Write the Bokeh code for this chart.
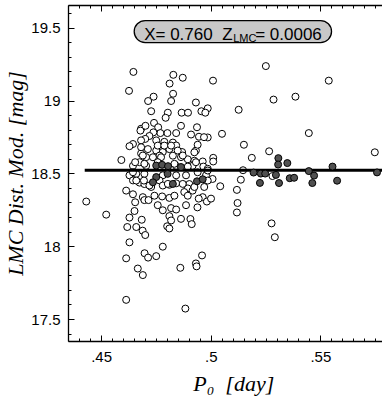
import numpy as np
from bokeh.plotting import figure
from bokeh.models import (FixedTicker, Label, BoxAnnotation, LinearAxis, Range1d,
                          CustomJSTickFormatter)
from bokeh.embed import file_html
from bokeh.resources import INLINE

# ---- data ----
open_x = [0.4645, 0.4625, 0.4827, 0.4870, 0.4810, 0.5008, 0.5249, 0.5536, 0.4826, 0.4737,
          0.4712, 0.4817, 0.4930, 0.5284, 0.5384, 0.4726, 0.4802, 0.4865, 0.4894, 0.4955,
          0.4984, 0.4973, 0.5125, 0.4792, 0.4680, 0.4700, 0.4739, 0.4758, 0.4862, 0.4935,
          0.4800, 0.4768, 0.4736, 0.5049, 0.4908, 0.4944, 0.4984, 0.4967, 0.5445, 0.4840,
          0.4718, 0.4699, 0.4643, 0.4627, 0.4680, 0.4749, 0.4786, 0.4825, 0.4840, 0.4930,
          0.4938, 0.4711, 0.4749, 0.4779, 0.4809, 0.4680, 0.4703, 0.4764, 0.4825, 0.4862,
          0.4893, 0.4923, 0.4961, 0.5009, 0.5009, 0.4643, 0.4673, 0.4703, 0.4840, 0.4915,
          0.4964, 0.4984, 0.4893, 0.4590, 0.4653, 0.4867, 0.5149, 0.5185, 0.5264, 0.5746,
          0.5145, 0.4627, 0.4658, 0.4695, 0.4779, 0.4840, 0.4885, 0.4976, 0.4643, 0.4673,
          0.4695, 0.4764, 0.4779, 0.4809, 0.4900, 0.4893, 0.4915, 0.4968, 0.5006, 0.5041,
          0.4923, 0.5135, 0.5279, 0.4726, 0.4612, 0.4643, 0.4688, 0.4741, 0.4776, 0.4809,
          0.4832, 0.4877, 0.4893, 0.4961, 0.4943, 0.4980, 0.4999, 0.5117, 0.4430, 0.4521,
          0.4695, 0.4714, 0.4653, 0.4756, 0.4885, 0.4937, 0.4779, 0.4817, 0.4840, 0.4809,
          0.4817, 0.4799, 0.4809, 0.4650, 0.4627, 0.4683, 0.4617, 0.4658, 0.4687, 0.4699,
          0.4627, 0.4696, 0.4712, 0.4612, 0.4749, 0.4779, 0.4665, 0.4688, 0.4859, 0.4930,
          0.4933, 0.4958, 0.4612, 0.4882, 0.4905, 0.4911, 0.5120, 0.5117, 0.5275, 0.5290,
          0.4677, 0.4680, 0.4756, 0.4786, 0.4817, 0.4847, 0.4923, 0.4688, 0.4734, 0.4771,
          0.4870, 0.4930, 0.4695, 0.4756, 0.4832, 0.4643, 0.4938, 0.4984, 0.4658, 0.4693,
          0.4718, 0.4802, 0.4840, 0.4870, 0.4984, 0.4862]
open_y = [19.20, 19.07, 19.18, 19.16, 19.12, 19.14, 19.24, 19.14, 19.05, 19.03,
          19.00, 19.00, 18.99, 19.01, 19.03, 18.93, 18.92, 18.92, 18.92, 18.93,
          18.95, 18.92, 18.94, 18.885, 18.81, 18.83, 18.85, 18.82, 18.83, 18.82,
          18.78, 18.78, 18.785, 18.775, 18.77, 18.755, 18.75, 18.752, 18.78, 18.78,
          18.76, 18.74, 18.705, 18.69, 18.73, 18.73, 18.72, 18.715, 18.695, 18.66,
          18.70, 18.67, 18.66, 18.65, 18.67, 18.64, 18.615, 18.625, 18.625, 18.615,
          18.60, 18.59, 18.585, 18.61, 18.585, 18.555, 18.58, 18.555, 18.555, 18.555,
          18.55, 18.535, 18.55, 18.595, 18.58, 18.65, 18.70, 18.61, 18.655, 18.648,
          18.525, 18.49, 18.50, 18.50, 18.49, 18.49, 18.49, 18.49, 18.455, 18.44,
          18.43, 18.455, 18.42, 18.425, 18.43, 18.40, 18.385, 18.41, 18.465, 18.415,
          18.41, 18.46, 18.485, 18.41, 18.385, 18.36, 18.34, 18.35, 18.345, 18.335,
          18.35, 18.375, 18.35, 18.34, 18.33, 18.31, 18.33, 18.39, 18.31, 18.22,
          18.32, 18.32, 18.305, 18.285, 18.285, 18.27, 18.25, 18.265, 18.255, 18.21,
          18.18, 18.14, 18.125, 18.245, 18.20, 18.185, 18.135, 18.135, 18.11, 18.08,
          18.03, 17.955, 17.925, 17.92, 17.935, 18.00, 17.85, 17.805, 17.855, 17.885,
          17.865, 17.94, 17.635, 17.575, 18.19, 18.155, 18.30, 18.235, 18.16, 18.065,
          18.797, 18.683, 18.694, 18.694, 18.694, 18.66, 18.648, 18.626, 18.614, 18.614,
          18.626, 18.58, 18.569, 18.58, 18.569, 18.511, 18.511, 18.523, 18.454, 18.454,
          18.42, 18.431, 18.435, 18.431, 18.454, 18.191]

fill_x = [0.4749, 0.4776, 0.4803, 0.4862, 0.4749, 0.4734, 0.4825, 0.4801, 0.4935, 0.4961,
          0.5306, 0.5305, 0.5347, 0.5193, 0.5226, 0.5246, 0.5295, 0.5222, 0.5309, 0.5358,
          0.5378, 0.5445, 0.5469, 0.5461, 0.5553, 0.5574, 0.5756]
fill_y = [18.557, 18.562, 18.553, 18.547, 18.478, 18.442, 18.431, 18.500, 18.449, 18.463,
          18.608, 18.564, 18.574, 18.509, 18.502, 18.502, 18.493, 18.438, 18.437, 18.470,
          18.473, 18.519, 18.488, 18.437, 18.550, 18.453, 18.510]

fit_x = [0.4423, 0.5800]
fit_y = [18.525, 18.525]

x_major = [0.45, 0.50, 0.55]
y_major = [17.5, 18.0, 18.5, 19.0, 19.5]
x_minor = list(np.round(np.arange(0.435, 0.5801, 0.005), 3))
y_minor = list(np.round(np.arange(17.4, 19.65, 0.1), 1))

annot_parts = ["X= 0.760", "Z", "LMC", "= 0.0006"]
x_title = "\u00a0\u00a0\u00a0P\u2080\u00a0\u00a0[day]"
y_title = "LMC Dist. Mod. [mag]"

# ---- figure ----
p = figure(width=382, height=409, output_backend="svg", toolbar_location=None,
           x_range=Range1d(0.4349, 0.5781), y_range=Range1d(17.349, 19.656),
           min_border_left=67, min_border_right=0, min_border_top=5, min_border_bottom=68)
p.grid.visible = False
p.outline_line_color = None
p.background_fill_color = "white"
p.border_fill_color = "white"

xfmt = CustomJSTickFormatter(code="return tick.toString().replace(/^0\\./, '.');")
yfmt = CustomJSTickFormatter(code="return tick.toString();")
nofmt = CustomJSTickFormatter(code="return '';")

def style_axis(ax, labels=True):
    ax.axis_line_color = "black"
    ax.axis_line_width = 1.3
    ax.major_tick_in = 6
    ax.major_tick_out = 0
    ax.minor_tick_in = 3
    ax.minor_tick_out = 0
    ax.major_tick_line_color = "black"
    ax.minor_tick_line_color = "black"
    ax.major_label_text_font = "Liberation Sans"
    ax.major_label_text_font_size = "15px" if labels else "0px"
    ax.major_label_text_color = "black"

p.xaxis.ticker = FixedTicker(ticks=x_major, minor_ticks=x_minor)
p.xaxis.formatter = xfmt
p.yaxis.ticker = FixedTicker(ticks=y_major, minor_ticks=y_minor)
p.yaxis.formatter = yfmt
style_axis(p.xaxis[0])
style_axis(p.yaxis[0])
p.xaxis.major_label_standoff = 10
p.yaxis.major_label_standoff = 8

p.xaxis.axis_label = x_title
p.xaxis.axis_label_text_font = "Liberation Serif"
p.xaxis.axis_label_text_font_style = "italic"
p.xaxis.axis_label_text_font_size = "22px"
p.xaxis.axis_label_text_color = "black"
p.xaxis.axis_label_standoff = 6

p.yaxis.axis_label = y_title
p.yaxis.axis_label_text_font = "Liberation Serif"
p.yaxis.axis_label_text_font_style = "italic"
p.yaxis.axis_label_text_font_size = "22px"
p.yaxis.axis_label_text_color = "black"
p.yaxis.axis_label_standoff = 0

top = LinearAxis(ticker=FixedTicker(ticks=x_major, minor_ticks=x_minor), formatter=nofmt)
style_axis(top, labels=False)
top.major_label_standoff = 0
p.add_layout(top, "above")

# ---- data marks ----
p.scatter(open_x, open_y, size=7, fill_color="white", line_color="black", line_width=1)
p.line(fit_x, fit_y, line_color="black", line_width=3)
p.scatter(fill_x, fill_y, size=7, fill_color="#505050", line_color="black", line_width=1)

# ---- annotation pill ----
p.add_layout(BoxAnnotation(left=0.46486, right=0.55486, bottom=19.4015, top=19.5525,
                           fill_color="#c8c8c8", fill_alpha=1.0, line_color="black",
                           line_alpha=1.0, line_width=1.3, border_radius=11))
ax0 = 0.46941
for txt, off, yy, fs in [(annot_parts[0], 0, 19.4564, "17px"),
                         (annot_parts[1], 78, 19.4564, "17px"),
                         (annot_parts[2], 89, 19.4323, "11px"),
                         (annot_parts[3], 111, 19.4564, "17px")]:
    p.add_layout(Label(x=ax0, x_offset=off, y=yy, text=txt, text_font="Liberation Sans",
                       text_font_size=fs, text_color="black", text_baseline="alphabetic"))

open("out.html", "w").write(file_html(p, INLINE))
